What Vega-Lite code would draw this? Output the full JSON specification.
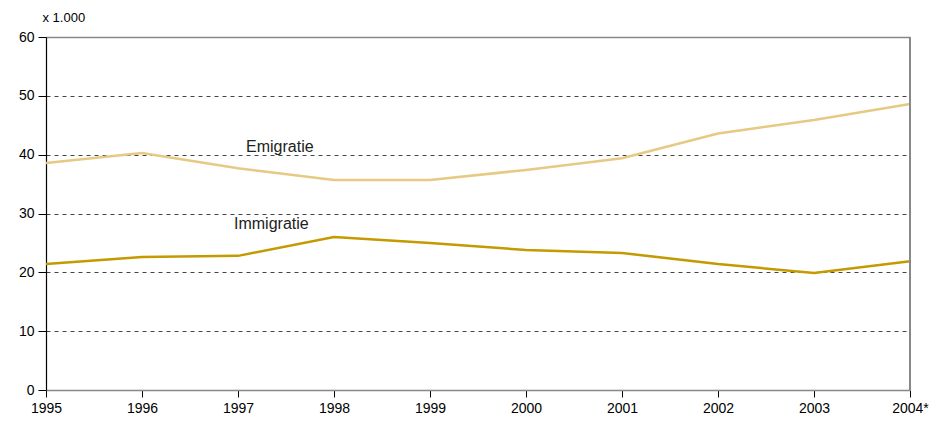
{
  "$schema": "https://vega.github.io/schema/vega-lite/v6.json",
  "width": 864,
  "height": 353,
  "autosize": {"type": "none"},
  "padding": {"left": 46, "top": 37, "right": 35, "bottom": 31},
  "background": "white",
  "config": {
    "font": "Liberation Sans",
    "view": {"stroke": null}
  },
  "datasets": {
    "series": [
      {"year": "1995", "series": "Emigratie", "value": 38.6},
      {"year": "1996", "series": "Emigratie", "value": 40.3},
      {"year": "1997", "series": "Emigratie", "value": 37.7},
      {"year": "1998", "series": "Emigratie", "value": 35.7},
      {"year": "1999", "series": "Emigratie", "value": 35.7},
      {"year": "2000", "series": "Emigratie", "value": 37.4},
      {"year": "2001", "series": "Emigratie", "value": 39.4},
      {"year": "2002", "series": "Emigratie", "value": 43.6},
      {"year": "2003", "series": "Emigratie", "value": 45.9},
      {"year": "2004*", "series": "Emigratie", "value": 48.6},
      {"year": "1995", "series": "Immigratie", "value": 21.4},
      {"year": "1996", "series": "Immigratie", "value": 22.6},
      {"year": "1997", "series": "Immigratie", "value": 22.8},
      {"year": "1998", "series": "Immigratie", "value": 26.0},
      {"year": "1999", "series": "Immigratie", "value": 25.0},
      {"year": "2000", "series": "Immigratie", "value": 23.8},
      {"year": "2001", "series": "Immigratie", "value": 23.3},
      {"year": "2002", "series": "Immigratie", "value": 21.4},
      {"year": "2003", "series": "Immigratie", "value": 19.9},
      {"year": "2004*", "series": "Immigratie", "value": 21.9}
    ]
  },
  "layer": [
    {
      "data": {"name": "series"},
      "mark": {"type": "line", "strokeWidth": 2.5},
      "encoding": {
        "x": {
          "field": "year", "type": "ordinal",
          "scale": {"type": "point", "padding": 0},
          "axis": {
            "title": null, "labelAngle": 0, "labelFontSize": 14, "labelColor": "#000",
            "labelPadding": 4, "tickColor": "#000", "tickSize": 7,
            "domainColor": "#888", "domainWidth": 1.5, "grid": false
          }
        },
        "y": {
          "field": "value", "type": "quantitative",
          "scale": {"domain": [0, 60], "nice": false},
          "axis": {
            "values": [0, 10, 20, 30, 40, 50, 60],
            "title": "x 1.000", "titleAngle": 0, "titleAlign": "left", "titleBaseline": "bottom",
            "titleX": -4, "titleY": -13, "titleFontSize": 13, "titleFontWeight": "normal", "titleColor": "#000",
            "labelFontSize": 14, "labelColor": "#000", "labelPadding": 4,
            "tickColor": "#000", "tickSize": 8, "domainColor": "#000", "domainWidth": 1.2,
            "grid": true, "gridColor": {"condition": {"test": "datum.value == 60", "value": "#888"}, "value": "#444"},
            "gridDash": {"condition": {"test": "datum.value == 60", "value": []}, "value": [4, 4]},
            "gridWidth": {"condition": {"test": "datum.value == 60", "value": 1.5}, "value": 1}
          }
        },
        "color": {
          "field": "series", "type": "nominal",
          "scale": {"domain": ["Emigratie", "Immigratie"], "range": ["#E6C983", "#C49A00"]},
          "legend": null
        }
      }
    },
    {
      "data": {"values": [{"year": "2004*"}]},
      "mark": {"type": "rule", "color": "#888", "strokeWidth": 2},
      "encoding": {
        "x": {"field": "year", "type": "ordinal"},
        "y": {"datum": 0},
        "y2": {"datum": 60}
      }
    },
    {
      "data": {"values": [{"year": "1997", "series": "Emigratie", "value": 41.3}]},
      "mark": {"type": "text", "align": "left", "baseline": "middle", "fontSize": 16, "color": "#222", "dx": 8},
      "encoding": {
        "x": {"field": "year", "type": "ordinal"},
        "y": {"field": "value", "type": "quantitative"},
        "text": {"field": "series"}
      }
    },
    {
      "data": {"values": [{"year": "1997", "series": "Immigratie", "value": 28.2}]},
      "mark": {"type": "text", "align": "left", "baseline": "middle", "fontSize": 16, "color": "#222", "dx": -4},
      "encoding": {
        "x": {"field": "year", "type": "ordinal"},
        "y": {"field": "value", "type": "quantitative"},
        "text": {"field": "series"}
      }
    }
  ]
}
